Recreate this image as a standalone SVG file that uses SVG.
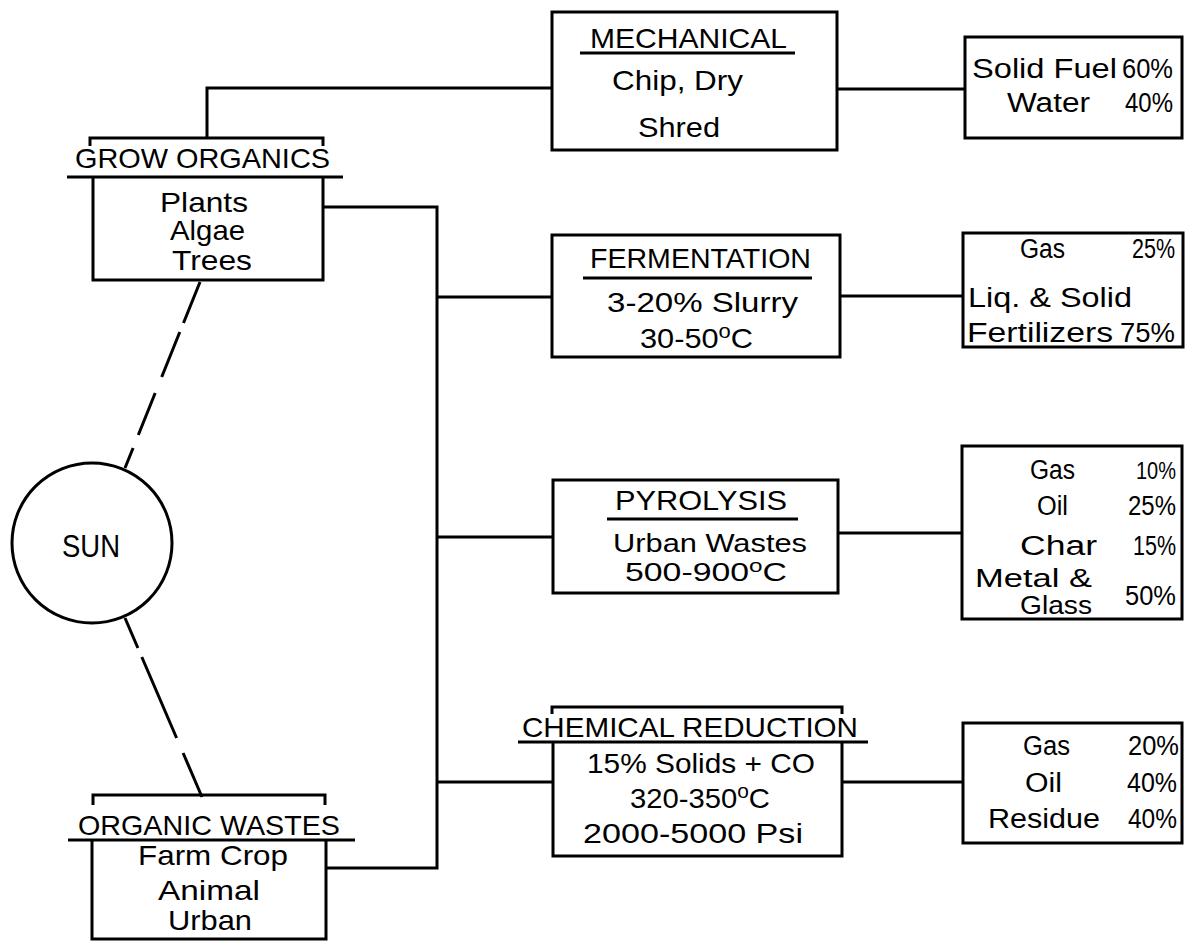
<svg xmlns="http://www.w3.org/2000/svg" width="1185" height="941" viewBox="0 0 1185 941">
<style>
.b{fill:none;stroke:#000;stroke-width:3;stroke-linejoin:miter}
.c{fill:none;stroke:#000;stroke-width:3}
text{font-family:"Liberation Sans",Arial,sans-serif;fill:#000}
.h{font-size:28px}
.m{font-size:28px}
.o{font-size:27px}
.p{font-size:25px}
.s{font-size:32px}
</style>
<rect width="1185" height="941" fill="#fff"/>
<g id="connectors">
<path class="c" d="M207,138 V88 H552"/>
<path class="c" d="M837,89 H965"/>
<path class="c" d="M323,207 H437 V868 H326"/>
<path class="c" d="M437,297 H552"/>
<path class="c" d="M840,296 H963"/>
<path class="c" d="M437,537 H553"/>
<path class="c" d="M838,533 H962"/>
<path class="c" d="M437,782 H553"/>
<path class="c" d="M842,782 H963"/>
<path class="c" d="M200,282 L183.5,323 M179.8,332 L161.7,377 M155.2,393 L138.3,435 M133.1,448 L125,468"/>
<path class="c" d="M125,618 L137.9,648 M141.8,657 L176.6,738 M183.1,753 L202,797"/>
</g>
<g id="grow-organics">
<path class="b" d="M90,146 V138 H323 V146"/>
<line class="c" x1="67" y1="177" x2="343" y2="177"/>
<path class="b" d="M93,177 V280 H323 V177"/>
<text class="h" x="75" y="168" textLength="255" lengthAdjust="spacingAndGlyphs">GROW ORGANICS</text>
<text class="m" x="160" y="212" textLength="88" lengthAdjust="spacingAndGlyphs">Plants</text>
<text class="m" x="170" y="240" textLength="75" lengthAdjust="spacingAndGlyphs">Algae</text>
<text class="m" x="172" y="270" textLength="80" lengthAdjust="spacingAndGlyphs">Trees</text>
</g>
<g id="sun">
<circle class="c" cx="92" cy="543" r="80"/>
<text class="s" x="62" y="557" textLength="58" lengthAdjust="spacingAndGlyphs">SUN</text>
</g>
<g id="organic-wastes">
<path class="b" d="M93,805 V795 H325 V805"/>
<line class="c" x1="68" y1="840" x2="355" y2="840"/>
<path class="b" d="M92,840 V939 H326 V840"/>
<text class="h" x="78" y="835" textLength="262" lengthAdjust="spacingAndGlyphs">ORGANIC WASTES</text>
<text class="m" x="138" y="865" textLength="150" lengthAdjust="spacingAndGlyphs">Farm Crop</text>
<text class="m" x="158" y="900" textLength="102" lengthAdjust="spacingAndGlyphs">Animal</text>
<text class="m" x="168" y="930" textLength="84" lengthAdjust="spacingAndGlyphs">Urban</text>
</g>
<g id="mechanical">
<rect class="b" x="552" y="12" width="285" height="138"/>
<text class="h" x="590" y="48" textLength="197" lengthAdjust="spacingAndGlyphs">MECHANICAL</text>
<line class="c" x1="580" y1="53" x2="795" y2="53"/>
<text class="m" x="612" y="90" textLength="131" lengthAdjust="spacingAndGlyphs">Chip, Dry</text>
<text class="m" x="638" y="137" textLength="82" lengthAdjust="spacingAndGlyphs">Shred</text>
</g>
<g id="mechanical-out">
<rect class="b" x="965" y="37" width="217" height="101"/>
<text class="o" x="972" y="78" textLength="145" lengthAdjust="spacingAndGlyphs">Solid Fuel</text>
<text class="o" x="1122" y="78" textLength="51" lengthAdjust="spacingAndGlyphs">60%</text>
<text class="o" x="1007" y="112" textLength="83" lengthAdjust="spacingAndGlyphs">Water</text>
<text class="o" x="1125" y="112" textLength="48" lengthAdjust="spacingAndGlyphs">40%</text>
</g>
<g id="fermentation">
<rect class="b" x="552" y="235" width="288" height="122"/>
<text class="h" x="590" y="268" textLength="221" lengthAdjust="spacingAndGlyphs">FERMENTATION</text>
<line class="c" x1="583" y1="278" x2="812" y2="278"/>
<text class="m" x="607" y="312" textLength="191" lengthAdjust="spacingAndGlyphs">3-20% Slurry</text>
<text class="m" x="640" y="348" textLength="113" lengthAdjust="spacingAndGlyphs">30-50<tspan font-size="20" dy="-10">o</tspan><tspan dy="10">C</tspan></text>
</g>
<g id="fermentation-out">
<rect class="b" x="963" y="233" width="220" height="114"/>
<text class="o" x="1020" y="258" textLength="45" lengthAdjust="spacingAndGlyphs">Gas</text>
<text class="o" x="1132" y="258" textLength="43" lengthAdjust="spacingAndGlyphs">25%</text>
<text class="o" x="968" y="307" textLength="164" lengthAdjust="spacingAndGlyphs">Liq. &amp; Solid</text>
<text class="o" x="967" y="342" textLength="146" lengthAdjust="spacingAndGlyphs">Fertilizers</text>
<text class="o" x="1120" y="342" textLength="55" lengthAdjust="spacingAndGlyphs">75%</text>
</g>
<g id="pyrolysis">
<rect class="b" x="553" y="480" width="285" height="113"/>
<text class="h" x="615" y="510" textLength="172" lengthAdjust="spacingAndGlyphs">PYROLYSIS</text>
<line class="c" x1="607" y1="519" x2="798" y2="519"/>
<text class="p" x="613" y="552" textLength="194" lengthAdjust="spacingAndGlyphs">Urban Wastes</text>
<text class="p" x="625" y="581" textLength="162" lengthAdjust="spacingAndGlyphs">500-900<tspan font-size="18" dy="-9">o</tspan><tspan dy="9">C</tspan></text>
</g>
<g id="pyrolysis-out">
<rect class="b" x="962" y="446" width="220" height="173"/>
<text class="o" x="1030" y="479" textLength="45" lengthAdjust="spacingAndGlyphs">Gas</text>
<text x="1136" y="479" font-size="24" textLength="40" lengthAdjust="spacingAndGlyphs">10%</text>
<text class="o" x="1037" y="515" textLength="31" lengthAdjust="spacingAndGlyphs">Oil</text>
<text class="o" x="1128" y="515" textLength="48" lengthAdjust="spacingAndGlyphs">25%</text>
<text class="o" x="1020" y="555" textLength="77" lengthAdjust="spacingAndGlyphs">Char</text>
<text class="o" x="1133" y="555" textLength="43" lengthAdjust="spacingAndGlyphs">15%</text>
<text class="p" x="975" y="587" textLength="117" lengthAdjust="spacingAndGlyphs">Metal &amp;</text>
<text class="p" x="1020" y="614" textLength="72" lengthAdjust="spacingAndGlyphs">Glass</text>
<text class="o" x="1125" y="605" textLength="51" lengthAdjust="spacingAndGlyphs">50%</text>
</g>
<g id="chemical-reduction">
<path class="b" d="M552,714 V707 H842 V714"/>
<line class="c" x1="518" y1="742" x2="868" y2="742"/>
<path class="b" d="M553,742 V856 H842 V742"/>
<text class="h" x="522" y="737" textLength="336" lengthAdjust="spacingAndGlyphs">CHEMICAL REDUCTION</text>
<text class="m" x="587" y="773" textLength="228" lengthAdjust="spacingAndGlyphs">15% Solids + CO</text>
<text class="m" x="630" y="808" textLength="140" lengthAdjust="spacingAndGlyphs">320-350<tspan font-size="20" dy="-10">o</tspan><tspan dy="10">C</tspan></text>
<text class="m" x="583" y="843" textLength="220" lengthAdjust="spacingAndGlyphs">2000-5000 Psi</text>
</g>
<g id="chemical-reduction-out">
<rect class="b" x="963" y="723" width="219" height="120"/>
<text class="o" x="1023" y="755" textLength="47" lengthAdjust="spacingAndGlyphs">Gas</text>
<text class="o" x="1128" y="755" textLength="51" lengthAdjust="spacingAndGlyphs">20%</text>
<text class="o" x="1025" y="792" textLength="37" lengthAdjust="spacingAndGlyphs">Oil</text>
<text class="o" x="1127" y="792" textLength="50" lengthAdjust="spacingAndGlyphs">40%</text>
<text class="o" x="988" y="828" textLength="112" lengthAdjust="spacingAndGlyphs">Residue</text>
<text class="o" x="1128" y="828" textLength="49" lengthAdjust="spacingAndGlyphs">40%</text>
</g>
</svg>
